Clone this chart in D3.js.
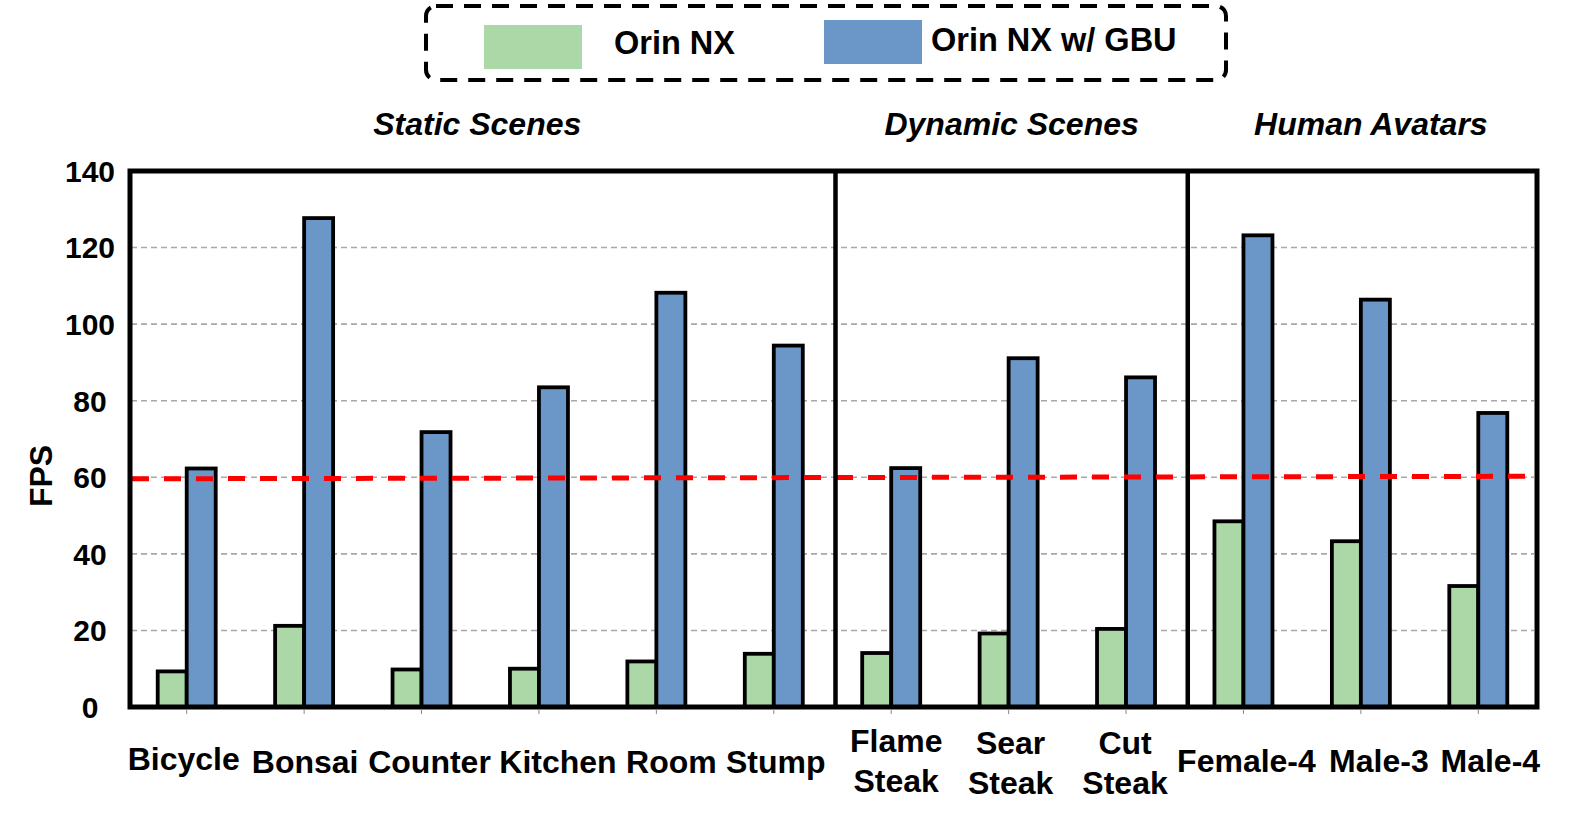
<!DOCTYPE html>
<html>
<head>
<meta charset="utf-8">
<script src="https://cdn.jsdelivr.net/npm/d3@7"></script>
<style>
  html, body { margin: 0; padding: 0; background: #fff; }
  svg { display: block; }
  text { font-family: "Liberation Sans", Arial, Helvetica, sans-serif; font-weight: bold; fill: #000; }
</style>
</head>
<body>
<script>
// ---------------- data ----------------
const categories = [["Bicycle"], ["Bonsai"], ["Counter"], ["Kitchen"], ["Room"], ["Stump"],
                    ["Flame", "Steak"], ["Sear", "Steak"], ["Cut", "Steak"],
                    ["Female-4"], ["Male-3"], ["Male-4"]];
const orinNX    = [9.3, 21.2, 9.8, 10.0, 11.9, 13.9, 14.1, 19.2, 20.4, 48.5, 43.3, 31.6];
const orinNXGBU = [62.3, 127.7, 71.8, 83.5, 108.2, 94.4, 62.4, 91.1, 86.1, 123.2, 106.4, 76.8];
const seriesNames = ["Orin NX", "Orin NX w/ GBU"];
const groupNames  = ["Static Scenes", "Dynamic Scenes", "Human Avatars"];
const groupStart  = [0, 6, 9];
const groupEnd    = [5, 8, 11];
const yTicks = [0, 20, 40, 60, 80, 100, 120, 140];
const threshold = 60;
const yLabel = "FPS";

// ---------------- layout ----------------
const W = 1578, H = 827;
const plotL = 128, plotR = 1537, plotT = 171, plotB = 707;
const colors = ["#acd7a6", "#6a96c8"];
const barW = 29;
// small nudges of labels (layout only)
const labelDx = [-3, 1, 8, 19, 15, 2, 5, 2, -1, 3, 18, 12];
const labelDy = [-2, 1, 1, 1, 1, 1, -1, 1, 1, 0, 0, 0];
const groupDx = [-3, 3, 10];

const svg = d3.select("body").append("svg").attr("width", W).attr("height", H);

const x = d3.scaleBand().domain(d3.range(categories.length)).range([plotL, plotR]).padding(0);
const y = d3.scaleLinear().domain([0, 140]).range([plotB, plotT]);
const cx = i => x(i) + x.bandwidth() / 2;

// gridlines
svg.append("g").selectAll("line").data(yTicks.filter(t => t > 0 && t < 140)).join("line")
  .attr("x1", plotL + 3).attr("x2", plotR - 3)
  .attr("y1", d => y(d)).attr("y2", d => y(d))
  .attr("stroke", "#a8a8a8").attr("stroke-width", 1.6).attr("stroke-dasharray", "6,4");

// bars
const bars = svg.append("g");
bars.selectAll("rect.g").data(orinNX).join("rect").attr("class", "g")
  .attr("x", (d, i) => cx(i) - barW).attr("width", barW)
  .attr("y", d => y(d)).attr("height", d => y(0) - y(d))
  .attr("fill", colors[0]).attr("stroke", "#000").attr("stroke-width", 3.8);
bars.selectAll("rect.b").data(orinNXGBU).join("rect").attr("class", "b")
  .attr("x", (d, i) => cx(i)).attr("width", barW)
  .attr("y", d => y(d)).attr("height", d => y(0) - y(d))
  .attr("fill", colors[1]).attr("stroke", "#000").attr("stroke-width", 3.8);

// threshold line
svg.append("line")
  .attr("x1", plotL + 4).attr("x2", plotR - 2)
  .attr("y1", y(threshold) + 1.5).attr("y2", y(threshold) - 1)
  .attr("stroke", "#ff0000").attr("stroke-width", 5).attr("stroke-dasharray", "17,15");

// group dividers
svg.append("g").selectAll("line").data(groupStart.slice(1)).join("line")
  .attr("x1", d => x(d) + 3).attr("x2", d => x(d) + 3)
  .attr("y1", plotT).attr("y2", plotB)
  .attr("stroke", "#000").attr("stroke-width", 4.5);

// frame
svg.append("rect")
  .attr("x", plotL + 2).attr("y", plotT).attr("width", plotR - plotL - 2).attr("height", plotB - plotT)
  .attr("fill", "none").attr("stroke", "#000").attr("stroke-width", 5);

// bottom ticks
svg.append("g").selectAll("line").data(categories).join("line")
  .attr("x1", (d, i) => cx(i)).attr("x2", (d, i) => cx(i))
  .attr("y1", plotB + 2.5).attr("y2", plotB + 7)
  .attr("stroke", "#888").attr("stroke-width", 1);

// y tick labels
svg.append("g").selectAll("text").data(yTicks).join("text")
  .attr("x", 90).attr("y", d => y(d)).attr("dy", "0.36em")
  .attr("text-anchor", "middle").style("font-size", "30px")
  .text(d => d);

// y axis title
svg.append("text")
  .attr("transform", `translate(52, 476) rotate(-90)`)
  .attr("text-anchor", "middle").style("font-size", "32px")
  .text(yLabel);

// category labels
const catG = svg.append("g").selectAll("text").data(categories).join("text")
  .attr("text-anchor", "middle").style("font-size", "32px")
  .attr("x", (d, i) => cx(i) + labelDx[i])
  .attr("y", (d, i) => (d.length > 1 ? 753 : 772) + labelDy[i]);
catG.selectAll("tspan").data(d => d).join("tspan")
  .attr("x", function () { return this.parentNode.getAttribute("x"); })
  .attr("dy", (d, j) => j === 0 ? 0 : 40)
  .text(d => d);

// group titles
svg.append("g").selectAll("text").data(groupNames).join("text")
  .attr("x", (d, i) => (x(groupStart[i]) + x(groupEnd[i]) + x.bandwidth()) / 2 + groupDx[i])
  .attr("y", 135).attr("text-anchor", "middle")
  .style("font-size", "32px").style("font-style", "italic")
  .text(d => d);

// legend
const lg = svg.append("g");
lg.append("rect").attr("x", 426).attr("y", 6).attr("width", 800).attr("height", 74).attr("rx", 10)
  .attr("fill", "none").attr("stroke", "#000").attr("stroke-width", 4).attr("stroke-dasharray", "17,11");
const legendSw = [{x: 484, y: 25}, {x: 824, y: 20}];
const legendTx = [{x: 614, y: 54}, {x: 931, y: 51}];
seriesNames.forEach((name, i) => {
  lg.append("rect").attr("x", legendSw[i].x).attr("y", legendSw[i].y).attr("width", 98).attr("height", 44)
    .attr("fill", colors[i]);
  lg.append("text").attr("x", legendTx[i].x).attr("y", legendTx[i].y).style("font-size", "32.5px").text(name);
});
</script>
</body>
</html>
